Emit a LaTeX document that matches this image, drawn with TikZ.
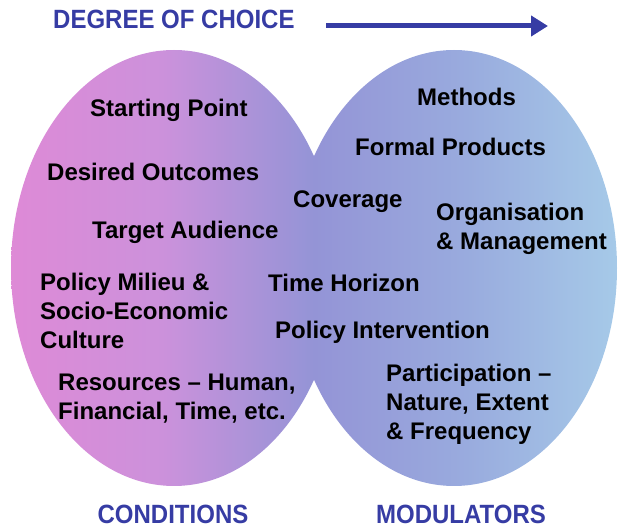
\documentclass[tikz,border=0pt]{standalone}
\usepackage{fontspec}
\setmainfont{Liberation Sans}
\usepackage{tikz}
\usetikzlibrary{arrows.meta}

\definecolor{headblue}{RGB}{54,60,164}

% pink to violet to light blue, left to right (path spans 25bp--75bp)
\pgfdeclarehorizontalshading{choiceband}{100bp}{
    rgb(0bp)=(0.87,0.54,0.84);
    rgb(25bp)=(0.87,0.54,0.84);
    rgb(37.5bp)=(0.80,0.57,0.86);
    rgb(50bp)=(0.58,0.58,0.84);
    rgb(62.5bp)=(0.60,0.67,0.87);
    rgb(75bp)=(0.65,0.79,0.91);
    rgb(100bp)=(0.65,0.79,0.91)}

\newcommand{\headtext}[1]{\scalebox{1}[1.1]{#1}}

\begin{document}
\begin{tikzpicture}[x=1pt,y=-1pt,>={Triangle[length=17pt,width=20pt]},
    item/.style={inner sep=0pt,anchor=west,align=left,font=\fontsize{24}{29}\selectfont\bfseries},
    heading/.style={inner sep=0pt,text=headblue,font=\fontsize{24}{29}\selectfont\bfseries}]
    \useasboundingbox (0,0) rectangle (622,529);

    \shade[shading=choiceband]
        (174,268) ellipse [x radius=163pt,y radius=218pt]
        (454,268) ellipse [x radius=163pt,y radius=218pt];

    \node[heading,anchor=west] (choice) at (53,19) {\headtext{DEGREE OF CHOICE}};
    \coordinate (arrowstart) at (326,26);
    \coordinate (arrowend) at (548,26);
    \draw[->,headblue,line width=5pt] (arrowstart) -- (arrowend);

    \node[item] (start) at (90,110) {Starting Point};
    \node[item] (outcomes) at (47,172) {Desired Outcomes};
    \node[item] (audience) at (92,232) {Target Audience};
    \node[item] (milieu) at (40,311) {Policy Milieu \&\\Socio-Economic\\Culture};
    \node[item] (resources) at (58,399) {Resources -- Human,\\Financial, Time, etc.};

    \node[item] (coverage) at (293,202) {Coverage};
    \node[item] (horizon) at (268,283) {Time Horizon};
    \node[item] (intervention) at (275,332) {Policy Intervention};

    \node[item] (methods) at (417,97) {Methods};
    \node[item] (products) at (355,147) {Formal Products};
    \node[item] (organisation) at (436,229) {Organisation\\\& Management};
    \node[item] (participation) at (386,404) {Participation --\\Nature, Extent\\\& Frequency};

    \node[heading] (conditions) at (173,514) {\headtext{CONDITIONS}};
    \node[heading] (modulators) at (461,514) {\headtext{MODULATORS}};
\end{tikzpicture}
\end{document}
